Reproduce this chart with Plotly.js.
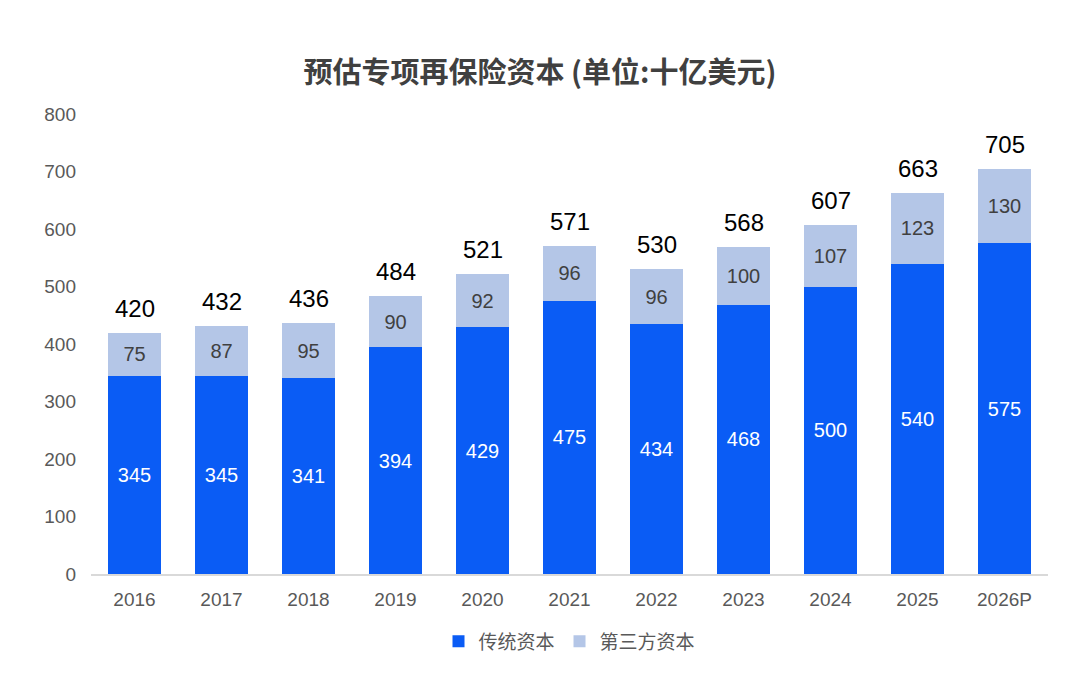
<!DOCTYPE html>
<html><head><meta charset="utf-8">
<script src="https://cdn.plot.ly/plotly-3.0.1.min.js"></script>
<style>html,body{margin:0;padding:0;background:#fff;}#chart{width:1080px;height:693px;}</style>
</head><body><div id="chart"></div>
<script>
const years = ['2016','2017','2018','2019','2020','2021','2022','2023','2024','2025','2026P'];
const traditional = [345,345,341,394,429,475,434,468,500,540,575];
const thirdParty = [75,87,95,90,92,96,96,100,107,123,130];
const totals = [420,432,436,484,521,571,530,568,607,663,705];
const FONT = 'Liberation Sans, Arial, Noto Sans CJK SC, sans-serif';

const traces = [
  {type:'bar', name:'传统资本', x:years, y:traditional, marker:{color:'#0a5cf5'},
   text:traditional.map(String), textposition:'inside', insidetextanchor:'middle',
   textfont:{color:'#ffffff', size:20, family:FONT}, hoverinfo:'skip'},
  {type:'bar', name:'第三方资本', x:years, y:thirdParty, marker:{color:'#b4c6e7'},
   text:thirdParty.map(String), textposition:'inside', insidetextanchor:'middle',
   textfont:{color:'#404040', size:20, family:FONT}, hoverinfo:'skip'}
];

const annotations = years.map((yr,i)=>({xref:'x', yref:'y', x:i, y:totals[i], text:String(totals[i]), showarrow:false,
  yanchor:'bottom', yshift:9, font:{size:24, color:'#000000', family:FONT}}));

const layout = {
  width:1080, height:693, barmode:'stack', bargap:0.4,
  paper_bgcolor:'#ffffff', plot_bgcolor:'#ffffff',
  margin:{l:91, r:32, t:114, b:119},
  title:{text:'<b>预估专项再保险资本 (单位:十亿美元)</b>', x:0.5, xanchor:'center', y:0.895, yanchor:'middle',
    font:{size:29, color:'#404040', family:'Noto Sans CJK SC, Liberation Sans, sans-serif'}},
  xaxis:{type:'category', range:[-0.5, years.length-0.5], autorange:false, showgrid:false, showline:true,
    linecolor:'#d9d9d9', linewidth:1.5, ticks:'',
    tickfont:{size:19, color:'#595959', family:FONT}, ticklabelstandoff:8},
  yaxis:{range:[0,800], autorange:false, dtick:100, showgrid:false, zeroline:false, showline:false, ticks:'',
    tickfont:{size:19, color:'#595959', family:FONT}, ticklabelstandoff:14},
  legend:{orientation:'h', x:0.5, xanchor:'center', y:-0.105, yanchor:'top', traceorder:'normal',
    font:{size:19, color:'#595959', family:'Noto Sans CJK SC, Liberation Sans, sans-serif'}},
  annotations:annotations,
  showlegend:true
};
Plotly.newPlot('chart', traces, layout, {displayModeBar:false, staticPlot:true});
</script></body></html>
